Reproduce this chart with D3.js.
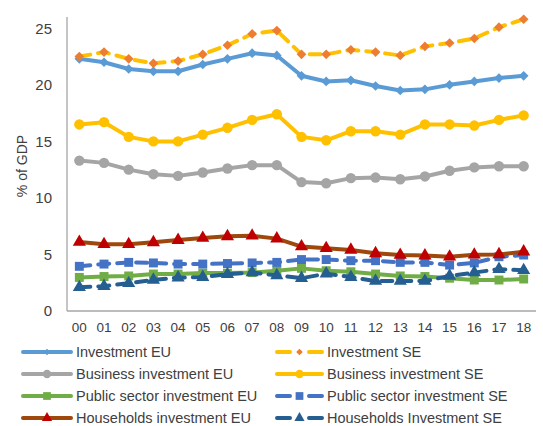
<!DOCTYPE html>
<html>
<head>
<meta charset="utf-8">
<script src="https://d3js.org/d3.v7.min.js"></script>
<style>
  body { margin: 0; background: #fff; }
  text { font-family: "Liberation Sans", Arial, sans-serif; fill: #404040; }
</style>
</head>
<body>
<svg id="chart" width="543" height="426"></svg>
<script>
// years on the category axis
const years = ["00","01","02","03","04","05","06","07","08","09","10","11","12","13","14","15","16","17","18"];
const yTicks = [0, 5, 10, 15, 20, 25];

// series values, % of GDP
const investmentEU = [22.3,22.0,21.4,21.2,21.2,21.8,22.3,22.8,22.6,20.8,20.3,20.4,19.9,19.5,19.6,20.0,20.3,20.6,20.8];
const investmentSE = [22.5,22.9,22.3,21.9,22.1,22.7,23.5,24.5,24.8,22.7,22.7,23.1,22.9,22.6,23.4,23.7,24.1,25.1,25.8];
const businessEU = [13.3,13.1,12.5,12.1,11.95,12.25,12.6,12.9,12.9,11.4,11.3,11.75,11.8,11.65,11.9,12.4,12.7,12.8,12.8];
const businessSE = [16.5,16.7,15.4,15.0,15.0,15.6,16.2,16.9,17.4,15.4,15.1,15.9,15.9,15.6,16.5,16.5,16.4,16.9,17.3];
const publicEU = [2.97,3.05,3.1,3.27,3.27,3.35,3.35,3.4,3.56,3.77,3.56,3.47,3.27,3.1,3.05,2.9,2.74,2.74,2.83];
const publicSE = [3.95,4.15,4.3,4.25,4.15,4.15,4.2,4.25,4.3,4.55,4.55,4.45,4.45,4.3,4.3,4.06,4.25,4.8,4.95];
const householdsEU = [6.1,5.9,5.9,6.07,6.27,6.45,6.6,6.65,6.4,5.7,5.55,5.4,5.1,4.95,4.9,4.8,4.97,5.0,5.25];
const householdsSE = [2.1,2.2,2.45,2.75,2.95,3.0,3.25,3.4,3.15,2.9,3.3,3.0,2.65,2.65,2.65,3.1,3.4,3.7,3.6];

const series = [
  {name: "Investment EU", values: investmentEU, line: "#5B9BD5", marker: "#5B9BD5", shape: "diamond", dash: null},
  {name: "Investment SE", values: investmentSE, line: "#FFC000", marker: "#ED7D31", shape: "diamond", dash: "11,8"},
  {name: "Business investment EU", values: businessEU, line: "#A5A5A5", marker: "#A5A5A5", shape: "circle", dash: null},
  {name: "Business investment SE", values: businessSE, line: "#FFC000", marker: "#FFC000", shape: "circle", dash: null},
  {name: "Public sector investment EU", values: publicEU, line: "#70AD47", marker: "#70AD47", shape: "square", dash: null},
  {name: "Public sector investment SE", values: publicSE, line: "#4472C4", marker: "#4472C4", shape: "square", dash: "11,8"},
  {name: "Households investment EU", values: householdsEU, line: "#9E480E", marker: "#C00000", shape: "triangle", dash: null},
  {name: "Households Investment SE", values: householdsSE, line: "#255E91", marker: "#255E91", shape: "triangle", dash: "11,8"}
];

const shapeTypes = {diamond: d3.symbolDiamond2, circle: d3.symbolCircle, square: d3.symbolSquare, triangle: d3.symbolTriangle};
const shapeSizes = {diamond: 60, circle: 85, square: 80, triangle: 75};
const legendSizes = {diamond: 28, circle: 55, square: 60, triangle: 45};

const svg = d3.select("#chart");
const plotLeft = 67, plotRight = 536, plotTop = 17, plotBottom = 311;

const xs = d3.scaleBand().domain(years).range([plotLeft, plotRight]).padding(0);
const ys = d3.scaleLinear().domain([0, 26]).range([plotBottom, plotTop]);
const cx = d => xs(d) + xs.bandwidth() / 2;

// axes
svg.append("line").attr("x1", plotLeft).attr("x2", plotLeft).attr("y1", plotTop).attr("y2", plotBottom)
   .attr("stroke", "#A6A6A6").attr("stroke-width", 1.3);
svg.append("line").attr("x1", plotLeft).attr("x2", plotRight).attr("y1", plotBottom).attr("y2", plotBottom)
   .attr("stroke", "#A6A6A6").attr("stroke-width", 1.3);

svg.append("g").selectAll("text").data(yTicks).enter().append("text")
   .attr("x", 52).attr("y", d => ys(d)).attr("dy", "0.35em")
   .attr("text-anchor", "end").style("font-size", "15px").text(d => d);

svg.append("g").selectAll("text").data(years).enter().append("text")
   .attr("x", d => cx(d)).attr("y", 332)
   .attr("text-anchor", "middle").style("font-size", "13.5px").text(d => d);

svg.append("text")
   .attr("transform", "translate(27,166) rotate(-90)")
   .attr("text-anchor", "middle").style("font-size", "14px").text("% of GDP");

// lines + markers
const line = d3.line().x((d, i) => cx(years[i])).y(d => ys(d));

series.forEach(s => {
  svg.append("path")
     .attr("d", line(s.values))
     .attr("fill", "none")
     .attr("stroke", s.line)
     .attr("stroke-width", 4)
     .attr("stroke-linejoin", "round")
     .attr("stroke-linecap", s.dash ? "round" : "butt")
     .attr("stroke-dasharray", s.dash);
  svg.append("g").selectAll("path").data(s.values).enter().append("path")
     .attr("d", d3.symbol().type(shapeTypes[s.shape]).size(shapeSizes[s.shape]))
     .attr("transform", (d, i) => "translate(" + cx(years[i]) + "," + ys(d) + ")")
     .attr("fill", s.marker);
});

// legend
const legendRows = [352, 374, 396, 418];
series.forEach((s, i) => {
  const col = i % 2, row = Math.floor(i / 2);
  const x0 = col === 0 ? 23 : 277;
  const x1 = col === 0 ? 71 : 322;
  const y = legendRows[row];
  const g = svg.append("g");
  g.append("line").attr("x1", x0).attr("x2", x1).attr("y1", y).attr("y2", y)
   .attr("stroke", s.line).attr("stroke-width", 4)
   .attr("stroke-linecap", "round")
   .attr("stroke-dasharray", s.dash ? "13,19" : null);
  g.append("path")
   .attr("d", d3.symbol().type(shapeTypes[s.shape]).size(legendSizes[s.shape]))
   .attr("transform", "translate(" + ((x0 + x1) / 2) + "," + y + ")")
   .attr("fill", s.marker);
  g.append("text").attr("x", x1 + 5).attr("y", y).attr("dy", "0.35em")
   .style("font-size", "14.5px").text(s.name);
});
</script>
</body>
</html>
